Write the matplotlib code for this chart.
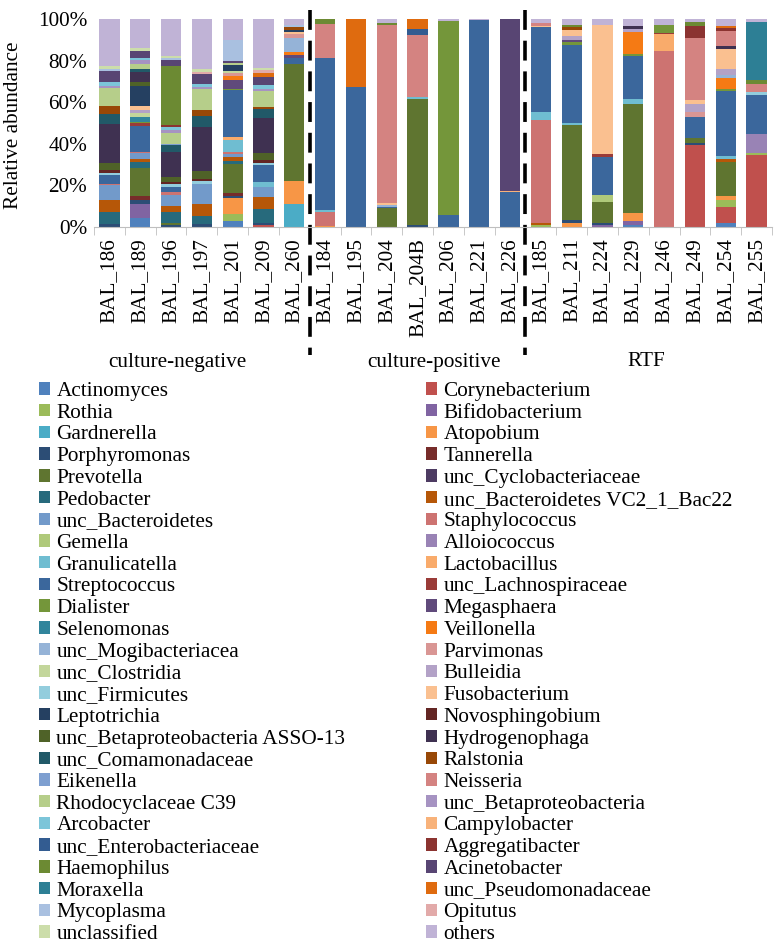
import numpy as np
import matplotlib.pyplot as plt

plt.rcParams['font.family'] = ['Liberation Serif', 'DejaVu Serif']
plt.rcParams['font.size'] = 15.3

samples = ['BAL_186', 'BAL_189', 'BAL_196', 'BAL_197', 'BAL_201', 'BAL_209', 'BAL_260',
           'BAL_184', 'BAL_195', 'BAL_204', 'BAL_204B', 'BAL_206', 'BAL_221', 'BAL_226',
           'BAL_185', 'BAL_211', 'BAL_224', 'BAL_229', 'BAL_246', 'BAL_249', 'BAL_254', 'BAL_255']
groups = ['culture-negative', 'culture-positive', 'RTF']

# series order = stacking order (bottom first)
taxa = ['Actinomyces', 'Corynebacterium', 'Rothia', 'Bifidobacterium', 'Gardnerella', 'Atopobium',
        'Porphyromonas', 'Tannerella', 'Prevotella', 'unc_Cyclobacteriaceae', 'Pedobacter',
        'unc_Bacteroidetes VC2_1_Bac22', 'unc_Bacteroidetes', 'Staphylococcus', 'Gemella',
        'Alloiococcus', 'Granulicatella', 'Lactobacillus', 'Streptococcus', 'unc_Lachnospiraceae',
        'Dialister', 'Megasphaera', 'Selenomonas', 'Veillonella', 'unc_Mogibacteriacea', 'Parvimonas',
        'unc_Clostridia', 'Bulleidia', 'unc_Firmicutes', 'Fusobacterium', 'Leptotrichia',
        'Novosphingobium', 'unc_Betaproteobacteria ASSO-13', 'Hydrogenophaga', 'unc_Comamonadaceae',
        'Ralstonia', 'Eikenella', 'Neisseria', 'Rhodocyclaceae C39', 'unc_Betaproteobacteria',
        'Arcobacter', 'Campylobacter', 'unc_Enterobacteriaceae', 'Aggregatibacter', 'Haemophilus',
        'Acinetobacter', 'Moraxella', 'unc_Pseudomonadaceae', 'Mycoplasma', 'Opitutus',
        'unclassified', 'others']
colors = ['#4F81BD', '#C0504D', '#9BBB59', '#8064A2', '#4BACC6', '#F79646',
          '#2C4D75', '#772C2A', '#5F7530', '#4D3B62', '#276A7C', '#B65708',
          '#729ACA', '#CD7371', '#AFC97A', '#9983B5', '#6FBDD1', '#F9AB6B',
          '#3B679C', '#9A3B38', '#74963A', '#604A7B', '#31859C', '#F57A14',
          '#95B3D7', '#D99694', '#C3D69B', '#B3A2C7', '#93CDDD', '#FAC090',
          '#254061', '#632523', '#4F6228', '#3F3151', '#215968', '#984807',
          '#7E9FD0', '#D48381', '#B6CE8A', '#A693C2', '#7CC5D9', '#F8B27A',
          '#335C91', '#8B3330', '#6C8A33', '#584573', '#2D7F95', '#DF6B0F',
          '#A9C0E0', '#E2AAA9', '#CCDDAA', '#C0B3D6']

# relative abundance (%) read per sample
bal_186 = {'Porphyromonas': 1.3, 'Pedobacter': 6.0, 'unc_Bacteroidetes VC2_1_Bac22': 5.8,
           'unc_Bacteroidetes': 7.0, 'Staphylococcus': 0.5, 'Streptococcus': 4.4, 'unc_Firmicutes': 1.0,
           'Novosphingobium': 1.4, 'unc_Betaproteobacteria ASSO-13': 3.4, 'Hydrogenophaga': 18.6,
           'unc_Comamonadaceae': 4.9, 'Ralstonia': 3.6, 'Rhodocyclaceae C39': 8.9,
           'unc_Betaproteobacteria': 1.0, 'Arcobacter': 2.0, 'Acinetobacter': 4.9, 'Mycoplasma': 1.0,
           'unclassified': 1.6, 'others': 22.6}
bal_189 = {'Actinomyces': 4.2, 'Bifidobacterium': 6.8, 'Porphyromonas': 2.0, 'Tannerella': 1.8,
           'Prevotella': 13.6, 'Pedobacter': 2.6, 'unc_Bacteroidetes VC2_1_Bac22': 1.8,
           'unc_Bacteroidetes': 2.9, 'Staphylococcus': 0.5, 'Streptococcus': 12.1,
           'unc_Lachnospiraceae': 1.6, 'Dialister': 0.5, 'Selenomonas': 2.3, 'unc_Clostridia': 2.0,
           'Bulleidia': 1.6, 'Fusobacterium': 1.6, 'Leptotrichia': 10.0,
           'unc_Betaproteobacteria ASSO-13': 1.6, 'Hydrogenophaga': 4.9, 'unc_Comamonadaceae': 1.6,
           'Rhodocyclaceae C39': 2.4, 'unc_Betaproteobacteria': 1.6, 'Arcobacter': 1.0,
           'Acinetobacter': 3.3, 'unclassified': 1.6, 'others': 14.0}
bal_196 = {'Porphyromonas': 0.8, 'Prevotella': 1.3, 'Pedobacter': 4.9, 'unc_Bacteroidetes VC2_1_Bac22': 3.2,
           'unc_Bacteroidetes': 5.2, 'Staphylococcus': 1.3, 'Streptococcus': 2.4, 'unc_Firmicutes': 1.3,
           'Novosphingobium': 1.0, 'unc_Betaproteobacteria ASSO-13': 2.4, 'Hydrogenophaga': 12.1,
           'unc_Comamonadaceae': 3.2, 'Eikenella': 0.8, 'Rhodocyclaceae C39': 5.2,
           'unc_Betaproteobacteria': 1.3, 'Arcobacter': 1.3, 'Aggregatibacter': 1.1, 'Haemophilus': 28.6,
           'Acinetobacter': 2.6, 'Mycoplasma': 1.1, 'unclassified': 1.1, 'others': 17.5}
bal_197 = {'Porphyromonas': 1.3, 'Pedobacter': 4.0, 'unc_Bacteroidetes VC2_1_Bac22': 5.7,
           'unc_Bacteroidetes': 9.7, 'unc_Firmicutes': 1.3, 'Novosphingobium': 1.1,
           'unc_Betaproteobacteria ASSO-13': 4.0, 'Hydrogenophaga': 21.0, 'unc_Comamonadaceae': 5.2,
           'Ralstonia': 2.9, 'Rhodocyclaceae C39': 10.2, 'unc_Betaproteobacteria': 0.8, 'Arcobacter': 1.6,
           'Acinetobacter': 4.9, 'Opitutus': 0.8, 'unclassified': 1.6, 'others': 23.8}
bal_201 = {'Actinomyces': 2.9, 'Rothia': 3.2, 'Atopobium': 7.8, 'Porphyromonas': 0.8, 'Tannerella': 1.5,
           'Prevotella': 13.9, 'Pedobacter': 1.6, 'unc_Bacteroidetes VC2_1_Bac22': 1.9,
           'unc_Bacteroidetes': 1.6, 'Staphylococcus': 0.8, 'Granulicatella': 5.7, 'Lactobacillus': 1.6,
           'Streptococcus': 22.3, 'Dialister': 0.8, 'Megasphaera': 4.4, 'Veillonella': 1.6,
           'Parvimonas': 1.6, 'unc_Clostridia': 0.8, 'Leptotrichia': 2.8, 'Rhodocyclaceae C39': 1.0,
           'Acinetobacter': 1.1, 'Mycoplasma': 10.2, 'others': 10.0}
bal_209 = {'Corynebacterium': 1.0, 'Porphyromonas': 1.1, 'Pedobacter': 6.5,
           'unc_Bacteroidetes VC2_1_Bac22': 5.7, 'unc_Bacteroidetes': 5.2, 'Granulicatella': 2.1,
           'Streptococcus': 8.1, 'unc_Firmicutes': 1.1, 'Novosphingobium': 1.3,
           'unc_Betaproteobacteria ASSO-13': 3.6, 'Hydrogenophaga': 16.7, 'unc_Comamonadaceae': 4.4,
           'Ralstonia': 1.0, 'Rhodocyclaceae C39': 7.9, 'unc_Betaproteobacteria': 1.0, 'Arcobacter': 1.8,
           'Acinetobacter': 3.7, 'unc_Pseudomonadaceae': 2.1, 'Opitutus': 1.3, 'unclassified': 1.1,
           'others': 23.5}
bal_260 = {'Gardnerella': 10.7, 'Atopobium': 11.3, 'Prevotella': 55.3, 'Streptococcus': 2.9,
           'Megasphaera': 1.6, 'Veillonella': 1.3, 'unc_Mogibacteriacea': 7.0, 'Parvimonas': 1.6,
           'Fusobacterium': 1.1, 'Leptotrichia': 1.1, 'Ralstonia': 1.0, 'Mycoplasma': 1.1, 'others': 2.9}
bal_184 = {'Atopobium': 0.5, 'Staphylococcus': 6.8, 'Granulicatella': 0.8, 'Streptococcus': 73.3,
           'Neisseria': 16.2, 'Haemophilus': 2.4}
bal_195 = {'Streptococcus': 67.3, 'unc_Pseudomonadaceae': 32.7}
bal_204 = {'Prevotella': 8.9, 'Streptococcus': 0.8, 'unc_Mogibacteriacea': 0.8, 'Fusobacterium': 0.8,
           'Neisseria': 85.8, 'Haemophilus': 1.0, 'others': 1.9}
bal_204b = {'Porphyromonas': 0.8, 'Prevotella': 60.7, 'Granulicatella': 0.8, 'Neisseria': 29.9,
            'unc_Enterobacteriaceae': 2.9, 'unc_Pseudomonadaceae': 4.9}
bal_206 = {'Streptococcus': 5.7, 'Dialister': 93.5, 'others': 0.8}
bal_221 = {'Streptococcus': 99.6, 'others': 0.4}
bal_226 = {'Streptococcus': 16.7, 'Campylobacter': 0.8, 'Acinetobacter': 82.5}
bal_185 = {'Rothia': 0.8, 'unc_Bacteroidetes VC2_1_Bac22': 1.0, 'Staphylococcus': 49.4,
           'Granulicatella': 4.0, 'Streptococcus': 40.5, 'Fusobacterium': 0.8, 'Neisseria': 1.1,
           'others': 2.1}
bal_211 = {'Atopobium': 2.1, 'Porphyromonas': 1.1, 'Prevotella': 45.8, 'Granulicatella': 0.8,
           'Streptococcus': 37.5, 'Dialister': 1.3, 'Megasphaera': 1.1, 'Bulleidia': 2.1,
           'Fusobacterium': 2.9, 'Ralstonia': 1.1, 'Haemophilus': 1.1, 'others': 2.9}
bal_224 = {'Bifidobacterium': 1.0, 'Porphyromonas': 1.0, 'Prevotella': 9.9, 'Gemella': 3.6,
           'Streptococcus': 18.3, 'unc_Lachnospiraceae': 1.6, 'Fusobacterium': 62.0, 'others': 2.8}
bal_229 = {'Actinomyces': 1.0, 'Bifidobacterium': 1.9, 'Atopobium': 4.0, 'Prevotella': 52.3,
           'Granulicatella': 2.3, 'Streptococcus': 20.7, 'Dialister': 0.8, 'Veillonella': 10.8,
           'Bulleidia': 1.3, 'Hydrogenophaga': 1.3, 'others': 3.6}
bal_246 = {'Staphylococcus': 84.6, 'Lactobacillus': 8.1, 'unc_Lachnospiraceae': 0.5, 'Dialister': 3.9,
           'others': 2.9}
bal_249 = {'Corynebacterium': 39.3, 'Porphyromonas': 1.1, 'Prevotella': 2.4, 'Streptococcus': 10.2,
           'Parvimonas': 2.4, 'Bulleidia': 3.7, 'Fusobacterium': 1.9, 'Neisseria': 29.9,
           'Aggregatibacter': 5.7, 'Haemophilus': 1.6, 'others': 1.6}
bal_254 = {'Actinomyces': 2.1, 'Corynebacterium': 7.3, 'Rothia': 3.7, 'Atopobium': 1.6, 'Prevotella': 16.5,
           'unc_Bacteroidetes VC2_1_Bac22': 1.3, 'Granulicatella': 1.6, 'Streptococcus': 31.4,
           'Dialister': 1.0, 'Veillonella': 5.2, 'unc_Mogibacteriacea': 1.6, 'Bulleidia': 2.8,
           'Fusobacterium': 9.7, 'Hydrogenophaga': 1.0, 'Neisseria': 7.6, 'Aggregatibacter': 1.3,
           'unc_Pseudomonadaceae': 1.1, 'others': 3.2}
bal_255 = {'Corynebacterium': 34.5, 'Rothia': 1.1, 'Alloiococcus': 9.1, 'Streptococcus': 18.9,
           'unc_Firmicutes': 1.1, 'Neisseria': 4.2, 'Haemophilus': 1.6, 'Moraxella': 28.2, 'others': 1.3}

abundance = [bal_186, bal_189, bal_196, bal_197, bal_201, bal_209, bal_260,
             bal_184, bal_195, bal_204, bal_204b, bal_206, bal_221, bal_226,
             bal_185, bal_211, bal_224, bal_229, bal_246, bal_249, bal_254, bal_255]

W, H = 777, 947
fig = plt.figure(figsize=(W / 100, H / 100), dpi=100)
ax = fig.add_axes([94 / W, 1 - 227 / H, (772 - 94) / W, (227 - 19) / H])

x = np.arange(len(samples))
totals = np.array([sum(d.values()) for d in abundance])
bottom = np.zeros(len(samples))
handles = []
for name, col in zip(taxa, colors):
    v = np.array([d.get(name, 0.0) for d in abundance]) / totals * 100
    h = ax.bar(x, v, 0.66, bottom=bottom, color=col, label=name, linewidth=0)
    bottom += v
    handles.append(h)

ax.set_xlim(-0.5, len(samples) - 0.5)
ax.set_ylim(0, 100)
ax.set_yticks(range(0, 101, 20))
ax.set_yticklabels([f'{v}%' for v in range(0, 101, 20)])
ax.tick_params(axis='y', length=0, pad=5)
ax.set_xticks(x)
ax.set_xticklabels(samples, rotation=90, va='top')
ax.set_xticks(np.arange(-0.5, len(samples)), minor=True)
ax.tick_params(axis='x', which='major', length=0, pad=8)
ax.tick_params(axis='x', which='minor', length=6, color='#BFBFBF')
for s in ['top', 'right', 'left']:
    ax.spines[s].set_visible(False)
ax.spines['bottom'].set_color('#BFBFBF')

fig.text(14 / W, 1 - 125 / H, 'Relative abundance', rotation=90, ha='center', va='center')

# group separators
for xb in [6.5, 13.5]:
    ax.plot([xb, xb], [1.045, -0.615], transform=ax.get_xaxis_transform(), clip_on=False,
            color='black', lw=2.6, dashes=(5.5, 3))

for label, px in zip(groups, [177, 434, 646]):
    fig.text(px / W, 1 - 362 / H, label, ha='center', va='center')

order = handles[0::2] + handles[1::2]
names = taxa[0::2] + taxa[1::2]
fig.legend(order, names, loc='upper left', bbox_to_anchor=(39 / W, 1 - 382 / H), ncol=2,
           frameon=False, handlelength=0.52, handleheight=0.52, handletextpad=0.3,
           columnspacing=3.8, labelspacing=0.128, borderpad=0, borderaxespad=0)

fig.savefig('out.png', dpi=100)
